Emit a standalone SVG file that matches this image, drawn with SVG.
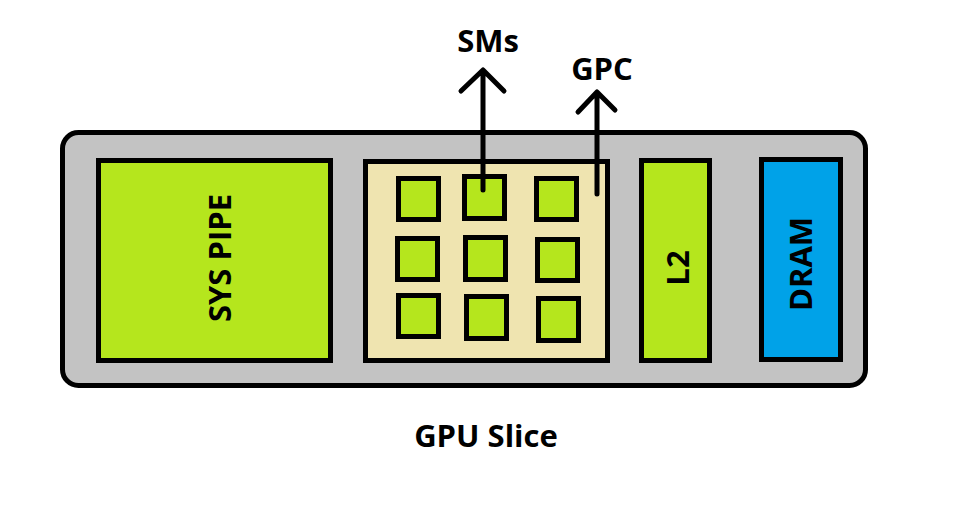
<svg xmlns="http://www.w3.org/2000/svg" width="959" height="514" viewBox="0 0 959 514">
<style>
.box{stroke:#000;stroke-width:5}
.green{fill:#b5e61d}
.lbl{font-family:"Open Sans","Liberation Sans",sans-serif;font-weight:bold;font-size:31px;fill:#000;text-anchor:middle}
.arrow{fill:none;stroke:#000;stroke-width:5;stroke-linecap:round;stroke-linejoin:round}
</style>
<rect width="959" height="514" fill="#fff"/>
<g id="gpu-slice">
<rect class="box" x="62.5" y="132.5" width="803" height="253" rx="16" fill="#c3c3c3"/>
<text class="lbl" x="486" y="447">GPU Slice</text>
</g>
<g id="sys-pipe">
<rect class="box green" x="98.5" y="160.5" width="232" height="200"/>
<text class="lbl" transform="translate(231,258) rotate(-90)">SYS PIPE</text>
</g>
<g id="gpc">
<rect class="box" x="365.5" y="161.5" width="242" height="199" fill="#efe4b0"/>
</g>
<g id="sms">
<rect class="box green" x="398.5" y="178.5" width="40" height="41"/>
<rect class="box green" x="464.5" y="176.5" width="40" height="42"/>
<rect class="box green" x="536.5" y="178.5" width="40" height="41"/>
<rect class="box green" x="397.5" y="238.5" width="40" height="41"/>
<rect class="box green" x="465.5" y="237.5" width="40" height="42"/>
<rect class="box green" x="537.5" y="239.5" width="40" height="41"/>
<rect class="box green" x="398.5" y="295.5" width="40" height="41"/>
<rect class="box green" x="466.5" y="296.5" width="40" height="42"/>
<rect class="box green" x="538.5" y="298.5" width="40" height="42"/>
</g>
<g id="l2">
<rect class="box green" x="641.5" y="160.5" width="68" height="200"/>
<text class="lbl" transform="translate(689,268) rotate(-90)">L2</text>
</g>
<g id="dram">
<rect class="box" x="761.5" y="159.5" width="79" height="200" fill="#00a2e8"/>
<text class="lbl" transform="translate(812,264) rotate(-90)">DRAM</text>
</g>
<g id="connectors">
<path class="arrow" d="M483 190V71M461 91L483 70L504 91"/>
<path class="arrow" d="M597 194V93M578 112L597 92L615 110"/>
</g>
<g id="labels">
<text class="lbl" x="488" y="52">SMs</text>
<text class="lbl" x="602" y="80">GPC</text>
</g>
</svg>
